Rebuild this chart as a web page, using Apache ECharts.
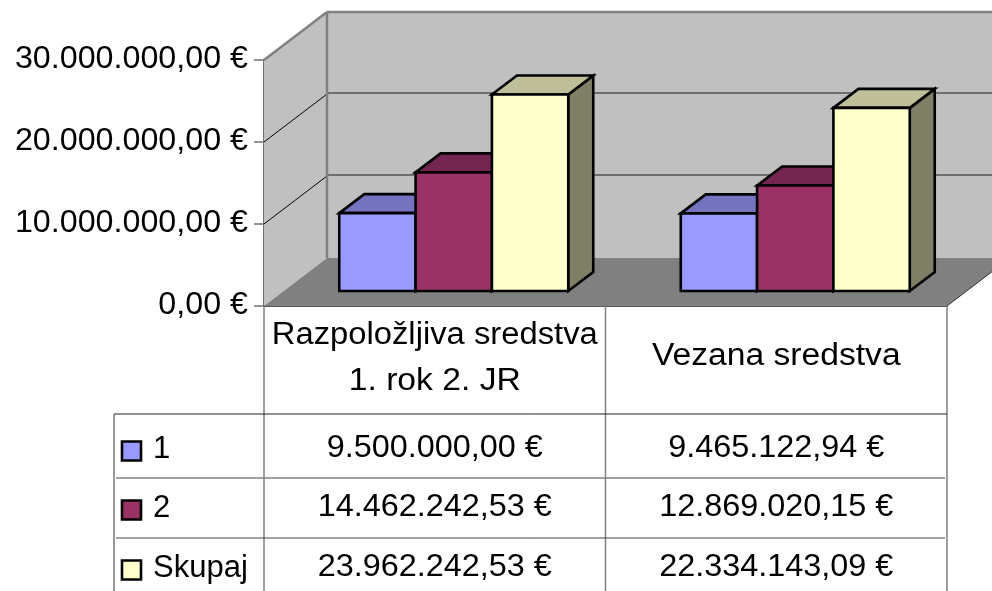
<!DOCTYPE html>
<html>
<head>
<meta charset="utf-8">
<style>
  html, body { margin: 0; padding: 0; background: #fff; }
  #chart { width: 992px; height: 591px; }
</style>
</head>
<body>
<div id="chart"></div>
<script src="https://cdn.jsdelivr.net/npm/echarts@6/dist/echarts.min.js"></script>
<script>
const categories = ['Razpoložljiva sredstva\n1. rok 2. JR', 'Vezana sredstva'];
const seriesNames = ['1', '2', 'Skupaj'];
const values1 = [9500000.00, 9465122.94];
const values2 = [14462242.53, 12869020.15];
const valuesTotal = [23962242.53, 22334143.09];
const yTicks = [0, 10000000, 20000000, 30000000];

const frontColors = ['#9999ff', '#993366', '#ffffcc'];
const topColors = ['#7373bf', '#732650', '#bfbf99'];
const sideColors = ['#4d4d80', '#4d1a33', '#7f7f66'];

const FONT = '"Liberation Sans", Arial, sans-serif';
const DEPTH_X = 63, DEPTH_Y = 48;     // floor / wall depth
const BAR_DX = 25, BAR_DY = 19;       // depth of one bar
const FRONT_X = 19, FRONT_Y = 15;     // bars stand a bit behind the front edge
const TABLE_LEFT = 114, ROW_TOP = 414, ROW_LINES = [478, 538];
const ROW_TEXT_Y = [448, 507, 567];

function euro(v) {
  let parts = v.toFixed(2).split('.');
  return parts[0].replace(/\B(?=(\d{3})+$)/g, '.') + ',' + parts[1] + ' €';
}

function label(text, x, y, align, sx) {
  return {
    type: 'text', x: x, y: y, scaleX: sx,
    style: { text: text, align: align, verticalAlign: 'middle', fontSize: 31, fontFamily: FONT, fill: '#000' }
  };
}
function line(x1, y1, x2, y2, color, width) {
  return {
    type: 'line',
    shape: { x1: x1, y1: y1, x2: x2, y2: y2 },
    style: { stroke: color, lineWidth: width }
  };
}
function poly(points, fill, stroke, width) {
  return {
    type: 'polygon',
    shape: { points: points },
    style: { fill: fill, stroke: stroke || null, lineWidth: width || 0, lineJoin: 'miter' }
  };
}

// walls, floor and the gridlines on them
function renderWalls(params, api) {
  let cs = params.coordSys;
  let l = cs.x, r = cs.x + cs.width;
  let y0 = api.coord([0, 0])[1], yMax = api.coord([0, 30000000])[1];
  let children = [
    poly([[l, yMax], [l + DEPTH_X, yMax - DEPTH_Y], [l + DEPTH_X, y0 - DEPTH_Y], [l, y0]], '#c0c0c0'),
    poly([[l + DEPTH_X, yMax - DEPTH_Y], [r + DEPTH_X, yMax - DEPTH_Y], [r + DEPTH_X, y0 - DEPTH_Y], [l + DEPTH_X, y0 - DEPTH_Y]], '#c0c0c0'),
    poly([[l, y0], [l + DEPTH_X, y0 - DEPTH_Y], [r + DEPTH_X, y0 - DEPTH_Y], [r, y0]], '#808080')
  ];
  yTicks.slice(1, 3).forEach(function (t) {
    let y = api.coord([0, t])[1];
    children.push(line(l, y, l + DEPTH_X, y - DEPTH_Y, '#000', 1));
    children.push(line(l + DEPTH_X, y - DEPTH_Y - 1, r + DEPTH_X, y - DEPTH_Y - 1, '#555', 1.5));
  });
  children.push(line(l, yMax, l + DEPTH_X, yMax - DEPTH_Y, '#808080', 2.5));
  children.push(line(l + DEPTH_X, yMax - DEPTH_Y, r + DEPTH_X, yMax - DEPTH_Y, '#808080', 2.5));
  children.push(line(l + DEPTH_X, yMax - DEPTH_Y, l + DEPTH_X, y0 - DEPTH_Y, '#808080', 2.5));
  children.push(line(r, y0, r + DEPTH_X, y0 - DEPTH_Y, '#333', 1));
  return { type: 'group', children: children };
}

function barSeries(idx, values) {
  return {
    type: 'custom',
    name: seriesNames[idx],
    z: 3 + idx,
    data: values.map(function (v, i) { return [i, v]; }),
    encode: { x: 0, y: 1 },
    renderItem: function (params, api) {
      let top = api.coord([api.value(0), api.value(1)]);
      let base = api.coord([api.value(0), 0]);
      let w = api.size([1, 0])[0] * 0.2235;
      let x1 = top[0] + FRONT_X + (idx - 1.5) * w;
      let x2 = x1 + w;
      let y1 = top[1] - FRONT_Y;
      let y2 = base[1] - FRONT_Y;
      return {
        type: 'group',
        children: [
          poly([[x2, y1], [x2 + BAR_DX, y1 - BAR_DY], [x2 + BAR_DX, y2 - BAR_DY], [x2, y2]], sideColors[idx], '#000', 2.6),
          poly([[x1, y1], [x1 + BAR_DX, y1 - BAR_DY], [x2 + BAR_DX, y1 - BAR_DY], [x2, y1]], topColors[idx], '#000', 2.6),
          poly([[x1, y1], [x2, y1], [x2, y2], [x1, y2]], frontColors[idx], '#000', 2.6)
        ]
      };
    }
  };
}

// tick labels, data table and its legend keys
function renderTable(params, api) {
  let cs = params.coordSys;
  let l = cs.x, r = cs.x + cs.width;
  let y0 = api.coord([0, 0])[1];
  let bottom = 591;
  let columns = [api.coord([0, 0])[0], api.coord([1, 0])[0]];
  let mid = (columns[0] + columns[1]) / 2;
  let rows = [values1, values2, valuesTotal];
  let children = [];

  yTicks.forEach(function (t) {
    children.push(label(euro(t), 248, api.coord([0, t])[1] - 1, 'right', 1.04));
  });

  children.push(line(l, y0, l, bottom, '#808080', 1.5));
  children.push(line(mid, y0, mid, bottom, '#808080', 1.5));
  children.push(line(r, y0, r, bottom, '#808080', 1.5));
  children.push(line(TABLE_LEFT, ROW_TOP, TABLE_LEFT, bottom, '#333', 1));
  children.push(line(TABLE_LEFT, ROW_TOP, r, ROW_TOP, '#222', 1));
  children.push(line(TABLE_LEFT + 2, ROW_LINES[0], r - 2, ROW_LINES[0], '#808080', 1.5));
  children.push(line(TABLE_LEFT + 2, ROW_LINES[1], r - 2, ROW_LINES[1], '#444', 1));

  let head = categories[0].split('\n');
  children.push(label(head[0], columns[0], 335, 'center', 1.057));
  children.push(label(head[1], columns[0], 381, 'center', 1.085));
  children.push(label(categories[1], columns[1], 356, 'center', 1.085));

  rows.forEach(function (row, i) {
    let y = ROW_TEXT_Y[i];
    children.push(poly([[122, y - 6.5], [141, y - 6.5], [141, y + 12.5], [122, y + 12.5]], frontColors[i], '#000', 2.6));
    children.push(label(seriesNames[i], 153, y + 1, 'left', 1));
    row.forEach(function (v, j) {
      children.push(label(euro(v), columns[j], y, 'center', 1.045));
    });
  });
  return { type: 'group', children: children };
}

const chart = echarts.init(document.getElementById('chart'), null, { renderer: 'canvas' });
chart.setOption({
  animation: false,
  backgroundColor: '#fff',
  textStyle: { fontFamily: FONT },
  grid: { left: 264, top: 60, width: 683, height: 246 },
  xAxis: {
    type: 'category',
    data: categories,
    axisLine: { lineStyle: { color: '#222', width: 1.5 } },
    axisTick: { show: false },
    axisLabel: { show: false }
  },
  yAxis: {
    type: 'value',
    min: 0,
    max: 30000000,
    interval: 10000000,
    axisLine: { show: true, lineStyle: { color: '#707070', width: 2 } },
    axisTick: { show: true, length: 10, lineStyle: { color: '#707070', width: 1.5 } },
    axisLabel: { show: false },
    splitLine: { show: false }
  },
  series: [
    { type: 'custom', name: 'walls', z: 1, silent: true, data: [[0, 0]], encode: { x: 0, y: 1 }, renderItem: renderWalls },
    barSeries(0, values1),
    barSeries(1, values2),
    barSeries(2, valuesTotal),
    { type: 'custom', name: 'table', z: 8, silent: true, data: [[0, 0]], encode: { x: 0, y: 1 }, renderItem: renderTable }
  ]
});
</script>
</body>
</html>
